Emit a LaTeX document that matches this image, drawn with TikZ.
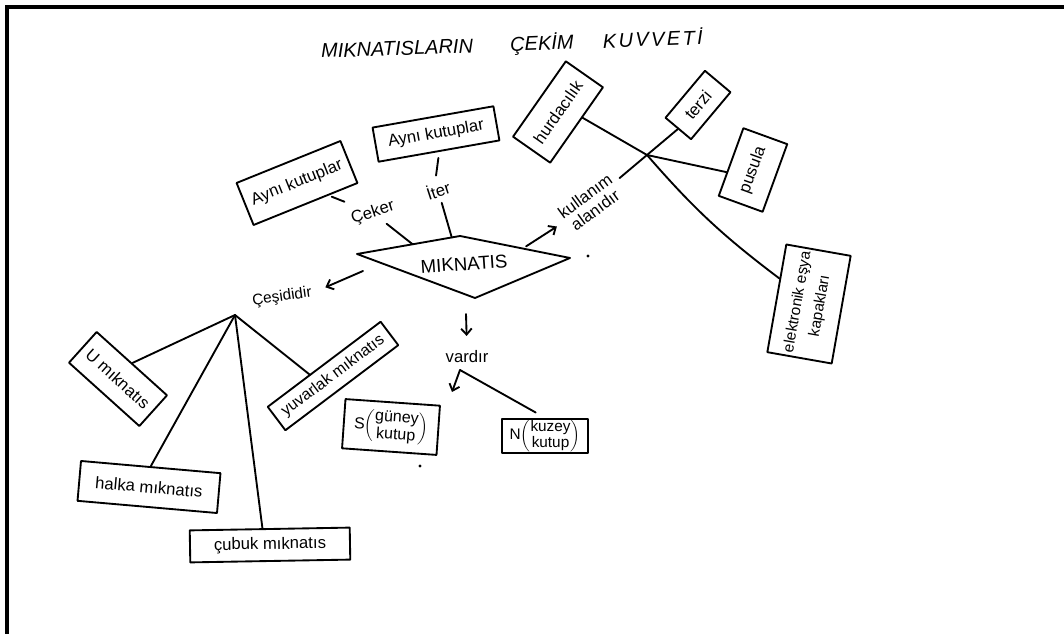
\documentclass[tikz,border=0pt]{standalone}
\usepackage{fontspec}
\setmainfont{Liberation Sans}
\usetikzlibrary{arrows.meta,calc,backgrounds}
\begin{document}
\begin{tikzpicture}[x=0.75pt,y=-0.75pt,
  ink/.style={line width=1.4pt, line cap=round, line join=round},
  card/.style={draw, line width=1.4pt, line join=round, fill=white, inner sep=1pt,
    align=center, font=\fontsize{12.5}{14}\selectfont},
  word/.style={inner sep=1pt, align=center, font=\fontsize{12.5}{13}\selectfont},
  tip/.style={-{Straight Barb[length=4.5pt,width=8pt]}},
]
\useasboundingbox (0,0) rectangle (1064,634);

% page frame
\draw[line width=2.4pt] (7,634) -- (7,7) -- (1064,7);

% title
\node[font=\itshape\fontsize{15}{17}\selectfont, rotate=2, inner sep=0pt] (title) at (512,45)
  {MIKNATISLARIN\hspace{28pt}ÇEKİM\hspace{22pt}{\addfontfeature{LetterSpace=12}KUVVETİ}};

% central diamond
\coordinate (mL) at (357,254);
\coordinate (mT) at (460,236);
\coordinate (mR) at (570,258);
\coordinate (mB) at (475,298);
\draw[ink] (mL) -- (mT) -- (mR) -- (mB) -- cycle;
\node[word, font=\fontsize{14}{16}\selectfont, rotate=4] (mag) at (464,264) {MIKNATIS};

% attraction and repulsion
\node[card, rotate=22, minimum width=84pt, minimum height=34pt] (aynA) at (297,183) {Aynı kutuplar};
\node[card, rotate=10, minimum width=92pt, minimum height=26pt] (aynB) at (436,134) {Aynı kutuplar};
\node[word, rotate=18] (ceker) at (373,213) {Çeker};
\node[word, rotate=18] (iter) at (438,190) {İter};

% fields of use
\node[word, rotate=36] (kul) at (590,203) {kullanım\\alanıdır};
\coordinate (hubR) at (647,155);
\node[card, rotate=55, minimum width=69pt, minimum height=34pt] (hurda) at (558,112) {hurdacılık};
\node[card, rotate=50, minimum width=46pt, minimum height=25pt] (terzi) at (698,105) {terzi};
\node[card, rotate=70, minimum width=54pt, minimum height=35pt] (pusula) at (753,170) {pusula};
\node[card, rotate=80, minimum width=82pt, minimum height=49pt, font=\fontsize{11.5}{17}\selectfont]
  (elek) at (809,304) {elektronik eşya\\kapakları};

% kinds of magnets
\node[word, font=\fontsize{11.5}{12}\selectfont, rotate=8] (cesit) at (282,297) {Çeşididir};
\coordinate (hubL) at (235,315);
\node[card, rotate=-42, minimum width=71pt, minimum height=31pt] (uMag) at (118,379) {U mıknatıs};
\node[card, rotate=37, minimum width=106pt, minimum height=22pt, font=\fontsize{12}{13}\selectfont]
  (yuv) at (333,376) {yuvarlak mıknatıs};
\node[card, rotate=-5, minimum width=105pt, minimum height=30pt] (halka) at (149,487) {halka mıknatıs};
\node[card, rotate=1, minimum width=120pt, minimum height=24pt] (cubuk) at (270,545) {çubuk mıknatıs};

% poles
\node[word] (vardir) at (467,357) {vardır};
\coordinate (vJ) at (460,370);
\coordinate (sTip) at (452,392);
\node[card, rotate=-4, minimum width=71pt, minimum height=37pt, font=\fontsize{12}{13}\selectfont]
  (sKut) at (391,427) {S$\left(\begin{tabular}{@{}c@{}}güney\\kutup\end{tabular}\right)$};
\node[card, minimum width=64pt, minimum height=25pt, font=\fontsize{11.5}{11.5}\selectfont]
  (nKut) at (545,436) {N$\left(\begin{tabular}{@{}c@{}}kuzey\\kutup\end{tabular}\right)$};

% free arrow starts
\coordinate (cA) at (363,271);
\coordinate (vA) at (466,314);

% stray pen dots
\fill (588,256) circle (1.2pt);
\fill (420,466) circle (1.2pt);

\begin{pgfonlayer}{background}
  % attraction / repulsion
  \draw[ink, shorten <=28pt, shorten >=23pt] (aynA.center) -- (ceker.center);
  \draw[ink, shorten <=13pt] (ceker.center) -- ($(mL)!0.54!(mT)$);
  \draw[ink, shorten <=4.5pt, shorten >=4.5pt] (aynB.south) -- (iter.north);
  \draw[ink, shorten <=10pt] (iter.center) -- ($(mL)!0.92!(mT)$);
  % fields of use
  \draw[ink, tip, shorten <=3pt, shorten >=6pt] ($(mT)!0.57!(mR)$) -- (kul.west);
  \draw[ink, shorten <=29pt] (kul.center) -- (hubR) -- (terzi.west);
  \draw[ink] ($(hurda.south)!0.2!(hurda.south east)$) -- (hubR)
    to[bend right=6] ($(elek.north)!0.36!(elek.north east)$);
  \draw[ink] (hubR) -- ($(pusula.north)!0.3!(pusula.north west)$);
  % kinds
  \draw[ink, tip, shorten >=10pt] (cA) -- (cesit.east);
  \draw[ink] (hubL) -- (uMag.north);
  \draw[ink] (hubL) -- ($(yuv.north)!0.25!(yuv.north west)$);
  \draw[ink] (hubL) -- (halka.north);
  \draw[ink] (hubL) -- ($(cubuk.north)!0.09!(cubuk.north west)$);
  % poles
  \draw[ink, tip, shorten >=10pt] (vA) -- (vardir.north);
  \draw[ink, tip] (vJ) -- (sTip);
  \draw[ink, shorten >=8pt] (vJ) -- (nKut.north);
\end{pgfonlayer}
\end{tikzpicture}
\end{document}
